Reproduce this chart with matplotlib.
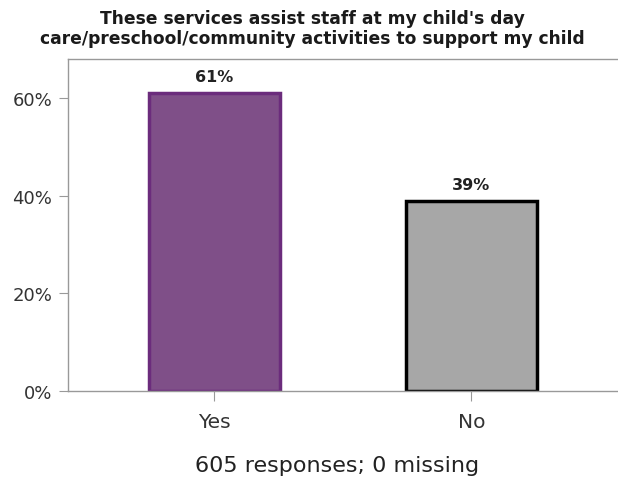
import matplotlib.pyplot as plt

categories = ["Yes", "No"]
values = [61, 39]
fills = ["#7f4f88", "#a7a7a7"]
edges = ["#6b2c7c", "#000000"]

fig = plt.figure(figsize=(6.18, 4.81), dpi=100)
# right spine falls just outside the picture
ax = fig.add_axes([68 / 618, 1 - 392 / 481, 560 / 618, 332 / 481])

x = range(len(categories))
for i, (v, fc, ec) in enumerate(zip(values, fills, edges)):
    ax.bar(i, v, width=0.51, color=fc, edgecolor=ec, linewidth=2.5)
    ax.text(i, v + 1.8, f"{v}%", ha="center", va="bottom",
            fontsize=11.5, fontweight="bold", color="#222222")

ax.set_xlim(-0.57, 1.61)
ax.set_ylim(0, 68)
ax.set_xticks(list(x))
ax.set_xticklabels(categories, fontsize=14.5, color="#333333")
ax.set_yticks([0, 20, 40, 60])
ax.set_yticklabels(["0%", "20%", "40%", "60%"], fontsize=13, color="#333333")
ax.tick_params(axis="x", length=7, color="#999999", pad=8)
ax.tick_params(axis="y", length=6.5, color="#999999", pad=5)
for s in ax.spines.values():
    s.set_color("#999999")
    s.set_linewidth(1)

fig.text(312 / 618, 1 - 29 / 481,
         "These services assist staff at my child's day\ncare/preschool/community activities to support my child",
         ha="center", va="center", fontsize=12.3, fontweight="bold",
         color="#1a1a1a", linespacing=1.1)
fig.text(337 / 618, 1 - 466 / 481, "605 responses; 0 missing",
         ha="center", va="center", fontsize=16, color="#222222")

fig.savefig("out.png", dpi=100)
